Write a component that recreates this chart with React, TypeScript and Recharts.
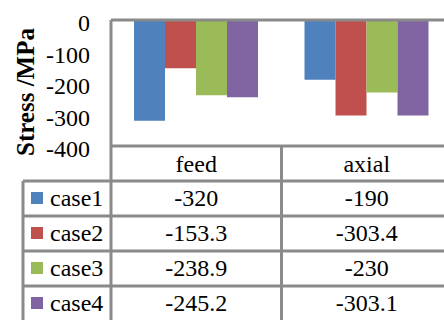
import React from "react";
import { BarChart, Bar, XAxis, YAxis, ReferenceLine } from "recharts";

const categories = ["feed", "axial"];
const case1 = [-320, -190];
const case2 = [-153.3, -303.4];
const case3 = [-238.9, -230];
const case4 = [-245.2, -303.1];
const seriesNames = ["case1", "case2", "case3", "case4"];
const seriesValues = [case1, case2, case3, case4];
const seriesColors = ["#4f81bd", "#c0504d", "#9bbb59", "#8064a2"];
const yTicks = [0, -100, -200, -300, -400];

const data = categories.map((name, i) => {
  const row: Record<string, string | number> = { name };
  seriesNames.forEach((s, k) => {
    row[s] = seriesValues[k][i];
  });
  return row;
});

const FONT = "'Liberation Serif', 'Times New Roman', serif";
const GRID = "#8a8a8a";
const CHART_W = 460;
const CHART_H = 340;
const Y_AXIS_W = 111;
const RIGHT = 8;
const ROW_H = 35;
const PLOT_W = CHART_W - Y_AXIS_W - RIGHT;
const HALF_BAND = PLOT_W / categories.length / 2;
const LEGEND_LEFT = 23;

function YTick(props: any) {
  const { x, y, payload } = props;
  return (
    <text x={x} y={y + 11} textAnchor="end" fontFamily={FONT} fontSize={24} fill="#000">
      {payload.value}
    </text>
  );
}

function YTitle(props: any) {
  const vb = props.viewBox || { x: 0, y: 20 };
  const cx = vb.x + 25;
  const cy = vb.y + 72;
  return (
    <text
      x={cx}
      y={cy}
      transform={`rotate(-90, ${cx}, ${cy})`}
      textAnchor="middle"
      dominantBaseline="central"
      fontFamily={FONT}
      fontSize={25}
      fontWeight="bold"
      fill="#000"
    >
      Stress /MPa
    </text>
  );
}

function cellBorders(x: number, y: number) {
  return (
    <>
      <line x1={x - HALF_BAND} x2={x - HALF_BAND} y1={y} y2={y + ROW_H} stroke={GRID} strokeWidth={3} />
      <line x1={x + HALF_BAND} x2={x + HALF_BAND} y1={y} y2={y + ROW_H} stroke={GRID} strokeWidth={3} />
    </>
  );
}

function HeadTick(props: any) {
  const { x, y, payload } = props;
  return (
    <g>
      {cellBorders(x, y)}
      <text x={x} y={y + 26} textAnchor="middle" fontFamily={FONT} fontSize={24} fill="#000">
        {payload.value}
      </text>
    </g>
  );
}

// one table row per series: value cell, plus the legend cell on the first column
function makeRowTick(k: number) {
  return function RowTick(props: any) {
    const { x, y, payload } = props;
    const i = payload.index ?? categories.indexOf(payload.value);
    const left = x - HALF_BAND;
    return (
      <g>
        {cellBorders(x, y)}
        {i === 0 && (
          <>
            <line x1={LEGEND_LEFT} x2={left} y1={y} y2={y} stroke={GRID} strokeWidth={3} />
            <line x1={LEGEND_LEFT} x2={LEGEND_LEFT} y1={y} y2={y + ROW_H} stroke={GRID} strokeWidth={3} />
            <rect x={31} y={y + 11} width={12} height={12} fill={seriesColors[k]} />
            <text x={50} y={y + 24.5} fontFamily={FONT} fontSize={24} fill="#000">
              {seriesNames[k]}
            </text>
          </>
        )}
        <text x={x} y={y + 24.5} textAnchor="middle" fontFamily={FONT} fontSize={24} fill="#000">
          {String(seriesValues[k][i])}
        </text>
      </g>
    );
  };
}

const rowTicks = seriesNames.map((_, k) => makeRowTick(k));

export default function App() {
  return (
    <div style={{ position: "absolute", left: 0, top: 0, width: 444, height: 320, overflow: "hidden", background: "#fff" }}>
      <BarChart
        width={CHART_W}
        height={CHART_H}
        data={data}
        margin={{ top: 20, right: RIGHT, left: 0, bottom: CHART_H - 146 - ROW_H * 5 }}
        barSize={31}
        barGap={0}
      >
        <YAxis
          type="number"
          domain={[-400, 0]}
          ticks={yTicks}
          width={Y_AXIS_W}
          tickSize={0}
          tickMargin={21}
          tick={<YTick />}
          axisLine={{ stroke: GRID, strokeWidth: 3 }}
          tickLine={false}
          label={<YTitle />}
        />
        <XAxis
          xAxisId={0}
          dataKey="name"
          height={ROW_H}
          tickSize={0}
          tickMargin={0}
          tickLine={false}
          axisLine={{ stroke: GRID, strokeWidth: 3 }}
          tick={<HeadTick />}
          interval={0}
        />
        {seriesNames.map((s, k) => (
          <XAxis
            key={s}
            xAxisId={k + 1}
            dataKey="name"
            height={ROW_H}
            tickSize={0}
            tickMargin={0}
            tickLine={false}
            axisLine={{ stroke: GRID, strokeWidth: 3 }}
            tick={React.createElement(rowTicks[k])}
            interval={0}
          />
        ))}
        {seriesNames.map((s, k) => (
          <Bar key={s} dataKey={s} xAxisId={0} fill={seriesColors[k]} isAnimationActive={false} />
        ))}
        <ReferenceLine y={0} xAxisId={0} stroke={GRID} strokeWidth={3} />
      </BarChart>
    </div>
  );
}
